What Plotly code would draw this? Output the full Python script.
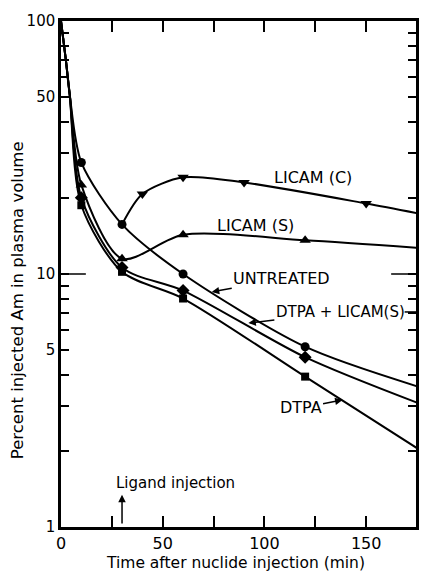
import math
import plotly.graph_objects as go

# ---- data ----
time_end = 175
early_t = [0, 2.4, 4.3]          # common initial decay (all groups)
early_v = [100, 70, 51]

untreated_t = [10, 30, 60, 120]
untreated_v = [27.6, 15.7, 10.0, 5.16]
untreated_end = 3.6

licam_s_t = [10, 30, 60, 120]
licam_s_v = [22.5, 11.5, 14.3, 13.6]
licam_s_end = 12.7

licam_c_t = [40, 60, 90, 150]
licam_c_v = [20.7, 24.1, 23.0, 19.0]
licam_c_end = 17.4

dtpa_licam_t = [10, 30, 60, 120]
dtpa_licam_v = [20.0, 10.6, 8.6, 4.69]
dtpa_licam_end = 3.1

dtpa_t = [10, 30, 60, 120]
dtpa_v = [18.7, 10.2, 8.0, 3.93]
dtpa_end = 2.05

x_ticks = [0, 25, 50, 75, 100, 125, 150, 175]
x_labels = ["0", "", "50", "", "100", "", "150", ""]
y_ticks = [1, 2, 3, 4, 5, 6, 7, 8, 9, 10, 20, 30, 40, 50, 60, 70, 80, 90, 100]
y_labels = ["1", "", "", "", "5", "", "", "", "", "10", "", "", "", "50", "", "", "", "", "100"]

FONT = "DejaVu Sans"
fig = go.Figure()

line_style = dict(color="black", width=2, shape="spline", smoothing=0.8)

def add_curve(t, v, end, start_t=None, start_v=None):
    if start_t is None:
        xs = early_t + t + [time_end]
        ys = early_v + v + [end]
    else:
        xs = [start_t] + t + [time_end]
        ys = [start_v] + v + [end]
    fig.add_trace(go.Scatter(x=xs, y=ys, mode="lines", line=line_style,
                             showlegend=False, hoverinfo="skip"))

add_curve(untreated_t, untreated_v, untreated_end)
add_curve(licam_s_t, licam_s_v, licam_s_end)
add_curve(licam_c_t, licam_c_v, licam_c_end, start_t=untreated_t[1], start_v=untreated_v[1])
add_curve(dtpa_licam_t, dtpa_licam_v, dtpa_licam_end)
add_curve(dtpa_t, dtpa_v, dtpa_end)

def add_markers(t, v, symbol, size):
    fig.add_trace(go.Scatter(x=t, y=v, mode="markers",
                             marker=dict(symbol=symbol, size=size, color="black"),
                             showlegend=False))

add_markers(dtpa_t, dtpa_v, "square", 8)
add_markers(dtpa_licam_t, dtpa_licam_v, "diamond", 10)
add_markers(licam_s_t, licam_s_v, "triangle-up", 10)
add_markers(licam_c_t, licam_c_v, "triangle-down", 10)
add_markers(untreated_t, untreated_v, "circle", 9)

afont = dict(family=FONT, size=16, color="black")
annotations = [
    dict(x=123.8, y=1.383, text="LICAM (C)", showarrow=False, font=afont),
    dict(x=95.5, y=1.190, text="LICAM (S)", showarrow=False, font=afont),
    dict(x=74.1, y=0.929, text="UNTREATED", showarrow=True, ax=70, ay=-13,
         arrowhead=2, arrowsize=1, arrowwidth=1.5, arrowcolor="black", font=afont),
    dict(x=92.1, y=0.806, text="DTPA + LICAM(S)", showarrow=True, ax=92, ay=-11,
         arrowhead=2, arrowsize=1, arrowwidth=1.5, arrowcolor="black",
         font=dict(family=FONT, size=15, color="black")),
    dict(x=138.4, y=0.502, text="DTPA", showarrow=True, ax=-42, ay=8,
         arrowhead=2, arrowsize=1, arrowwidth=1.5, arrowcolor="black", font=afont),
    dict(x=56.5, y=0.174, text="Ligand injection", showarrow=False,
         font=dict(family=FONT, size=15, color="black")),
    dict(x=30, y=0.127, text="", showarrow=True, axref="x", ayref="y", ax=30, ay=0.008,
         arrowhead=2, arrowsize=1, arrowwidth=1.5, arrowcolor="black"),
    dict(xref="paper", yref="paper", x=0.4916, y=-0.071, text="Time after nuclide injection (min)",
         showarrow=False, font=dict(family=FONT, size=15.5, color="black"),
         xanchor="center", yanchor="middle"),
    dict(xref="paper", yref="paper", x=-0.123, y=0.449, text="Percent injected Am in plasma volume",
         showarrow=False, textangle=-90, font=dict(family=FONT, size=16.5, color="black"),
         xanchor="center", yanchor="middle"),
]

shapes = [
    dict(type="line", xref="paper", yref="paper", x0=0, x1=0.07, y0=0.5, y1=0.5,
         line=dict(color="black", width=1.5)),
    dict(type="line", xref="paper", yref="paper", x0=0.93, x1=1, y0=0.5, y1=0.5,
         line=dict(color="black", width=1.5)),
    # short leader after the "DTPA + LICAM(S)" label toward the right axis
    dict(type="line", xref="paper", yref="paper", x0=0.968, x1=1, y0=0.425, y1=0.425,
         line=dict(color="black", width=1.5)),
]

fig.update_layout(
    width=421, height=571,
    margin=dict(l=61, r=2, t=21, b=44),
    paper_bgcolor="white", plot_bgcolor="white",
    font=dict(family=FONT, color="black"),
    annotations=annotations, shapes=shapes,
    showlegend=False,
)
fig.update_xaxes(range=[0, 174.5], tickvals=x_ticks, ticktext=x_labels,
                 ticks="inside", ticklen=11, tickwidth=1.5, tickcolor="black",
                 showline=True, linewidth=2.5, linecolor="black", mirror="ticks",
                 showgrid=False, zeroline=False,
                 tickfont=dict(family=FONT, size=16, color="black"))
fig.update_yaxes(type="log", range=[0, 2], tickvals=y_ticks, ticktext=y_labels,
                 ticks="inside", ticklen=8, tickwidth=1.5, tickcolor="black",
                 showline=True, linewidth=2.5, linecolor="black", mirror="ticks",
                 showgrid=False, zeroline=False,
                 tickfont=dict(family=FONT, size=15, color="black"))

fig.write_html("out.html", config={"displayModeBar": False},
               post_script="document.body.style.margin='0px';")
